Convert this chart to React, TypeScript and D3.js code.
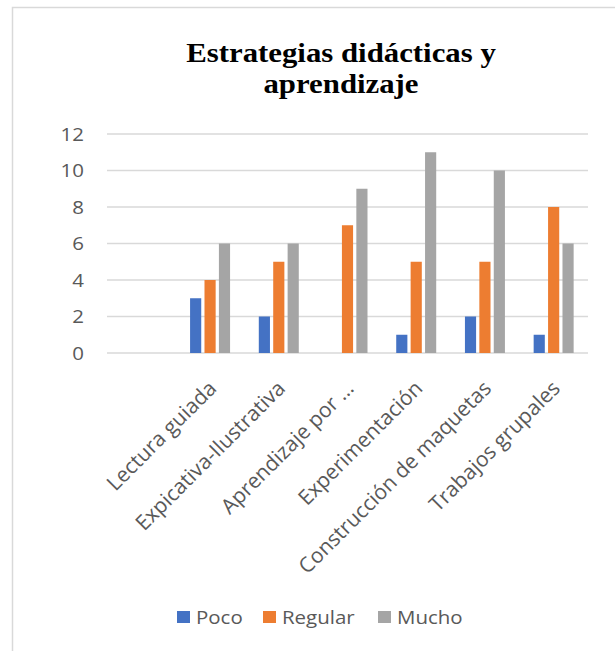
import React from "react";
import * as d3 from "d3";

const categories = ["", "Lectura guiada", "Expicativa-Ilustrativa", "Aprendizaje por …", "Experimentación", "Construcción de maquetas", "Trabajos grupales"];
const seriesNames = ["Poco", "Regular", "Mucho"];
const poco = [null, 3, 2, 0, 1, 2, 1];
const regular = [null, 4, 5, 7, 5, 5, 8];
const mucho = [null, 6, 6, 9, 11, 10, 6];
const yTicks = [0, 2, 4, 6, 8, 10, 12];
const colors = ["#4472C4", "#ED7D31", "#A5A5A5"];
const titleLines = ["Estrategias didácticas y", "aprendizaje"];

const W = 615;
const H = 651;
const FONT = "'Open Sans', 'Noto Sans', sans-serif";
const SX = 1.1;

export default function App() {
  const x = d3.scaleBand<string>().domain(categories).range([107, 588]).padding(0);
  const sub = d3.scaleBand<string>().domain(seriesNames).range([-23.25, 23.25]).padding(0.226);
  const y = d3.scaleLinear().domain([0, 12]).range([353, 134]);
  const allSeries = [poco, regular, mucho];

  return (
    <svg width={W} height={H} style={{ position: "absolute", left: 0, top: 0, background: "#fff" }}>
      <rect x={12.5} y={7.5} width={800} height={800} fill="#fff" stroke="#d9d9d9" strokeWidth={1.5} />
      {titleLines.map((t, i) => (
        <text key={i} transform={`translate(341 ${62 + i * 31}) scale(${SX} 1)`} textAnchor="middle" fontFamily="'Liberation Serif', 'Times New Roman', serif" fontWeight="bold" fontSize={28} fill="#000">{t}</text>
      ))}
      {yTicks.map((t) => (
        <g key={t}>
          <line x1={107} x2={588} y1={y(t)} y2={y(t)} stroke="#d9d9d9" strokeWidth={1.3} />
          <text transform={`translate(84 ${y(t)}) scale(${SX} 1)`} dy="0.36em" textAnchor="end" fontFamily={FONT} fontSize={18.6} fill="#595959">{t}</text>
        </g>
      ))}
      {allSeries.map((vals, si) =>
        categories.map((c, ci) => {
          const v = vals[ci];
          if (v == null || v === 0) return null;
          const cx = (x(c) as number) + x.bandwidth() / 2;
          const bx = cx + (sub(seriesNames[si]) as number);
          return <rect key={si + "-" + ci} x={bx} y={y(v)} width={sub.bandwidth()} height={y(0) - y(v)} fill={colors[si]} />;
        })
      )}
      {categories.map((c) => {
        if (!c) return null;
        const cx = (x(c) as number) + x.bandwidth() / 2 + 2;
        const ly = 384;
        return (
          <text key={c} x={cx} y={ly} transform={`rotate(-45 ${cx} ${ly})`} textAnchor="end" dominantBaseline="central" fontFamily={FONT} fontSize={21} fill="#595959">{c}</text>
        );
      })}
      {seriesNames.map((s, i) => {
        const lx = [177, 263, 378][i];
        return (
          <g key={s}>
            <rect x={lx} y={611} width={13} height={12} fill={colors[i]} />
            <text transform={`translate(${lx + 19} 617) scale(${SX} 1)`} dy="0.36em" fontFamily={FONT} fontSize={18.6} fill="#595959">{s}</text>
          </g>
        );
      })}
    </svg>
  );
}
